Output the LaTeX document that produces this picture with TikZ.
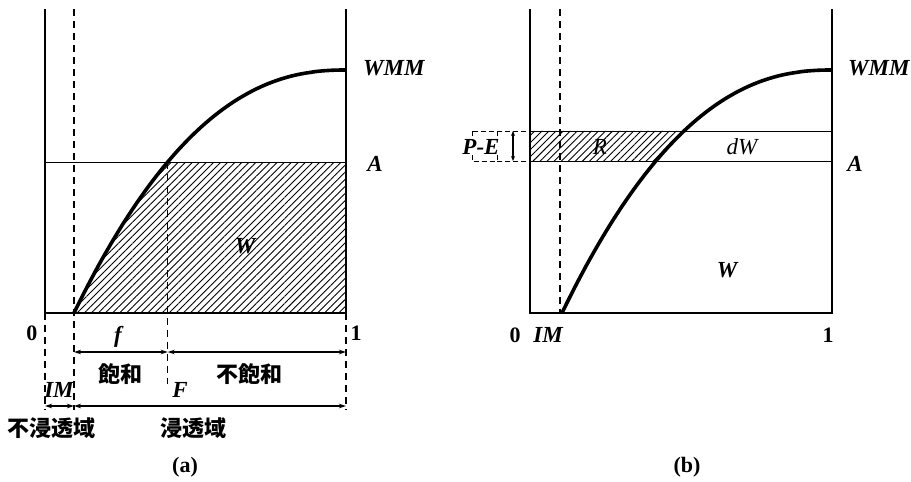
\documentclass[tikz,border=0pt]{standalone}
\usepackage{fontspec}
\setmainfont{Liberation Serif}
\newfontfamily\cjk{Noto Sans CJK JP}
\usetikzlibrary{arrows.meta,patterns.meta}
\begin{document}
\begin{tikzpicture}[x=1pt,y=-1pt,
  wall/.style={line width=2.8pt},
  thinl/.style={line width=1pt},
  dsh/.style={line width=1.2pt, dash pattern=on 7pt off 5pt},
  crv/.style={line width=3.6pt},
  hatch/.style={pattern={Lines[angle=45,distance=5pt,line width=0.9pt]}},
  lab/.style={font=\fontsize{23}{25}\selectfont\bfseries\itshape, inner sep=0pt},
  labm/.style={font=\fontsize{23}{25}\selectfont\itshape, inner sep=0pt},
  num/.style={font=\fontsize{22}{24}\selectfont\bfseries, inner sep=0pt},
  jp/.style={font=\fontsize{22}{24}\selectfont\cjk\bfseries, inner sep=0pt},
  dimarrow/.style={line width=1.1pt,{Stealth[length=7pt,width=4.5pt]}-{Stealth[length=7pt,width=4.5pt]}},
]
\useasboundingbox (0,0) rectangle (911,482);

% ---------------- panel (a) ----------------
\coordinate (aTL) at (45,9);
\coordinate (aBL) at (45,313);
\coordinate (aBR) at (346,313);
\coordinate (aTR) at (346,9);
\coordinate (aAL) at (45,162);
\coordinate (aAR) at (346,162);
\coordinate (aIMt) at (74,9);
\coordinate (aIMb) at (74,410);
\coordinate (aFa) at (167.7,162);
\coordinate (aFb) at (167.7,384);
\coordinate (aLb) at (45,410);
\coordinate (aRb) at (346,410);
\coordinate (af1) at (74,352);
\coordinate (af2) at (167.7,352);
\coordinate (af3) at (346,352);
\coordinate (aF1) at (45,406);
\coordinate (aF2) at (74,406);
\coordinate (aF3) at (346,406);

\fill[hatch] plot[domain=0:0.3444,samples=40] ({74+272*\x},{313-243*(1-(1-\x)^2.3)}) -- (aAR) -- (aBR) -- cycle;
\draw[thinl] (aAL) -- (aAR);
\draw[dsh] (aIMt) -- (aIMb);
\draw[dsh] (aFa) -- (aFb);
\draw[dsh] (aBL) -- (aLb);
\draw[dsh] (aBR) -- (aRb);
\draw[wall] (aTL) -- (aBL) -- (aBR) -- (aTR);
\draw[crv] plot[domain=0:1,samples=80] ({74+272*\x},{313-243*(1-max(1-\x,0)^2.3)});
\draw[dimarrow] (af1) -- (af2);
\draw[dimarrow] (af2) -- (af3);
\draw[dimarrow] (aF1) -- (aF2);
\draw[dimarrow] (aF2) -- (aF3);

\node[lab] (aW) at (245,246) {W};
\node[lab,anchor=west] (aWMM) at (363,68) {WMM};
\node[lab] (aA) at (375,164) {A};
\node[num] (a0) at (32,333) {0};
\node[num] (a1) at (356,333) {1};
\node[lab] (af) at (118,337) {f};
\node[jp] (asat) at (120,374) {飽和};
\node[jp] (aunsat) at (249,374) {不飽和};
\node[lab] (aIM) at (59,390) {IM};
\node[lab] (aF) at (180,390) {F};
\node[jp] (aimp) at (52,428) {不浸透域};
\node[jp] (aper) at (193,428) {浸透域};
\node[num] (acap) at (185,467) {(a)};

% ---------------- panel (b) ----------------
\coordinate (bTL) at (530,9);
\coordinate (bBL) at (530,313);
\coordinate (bBR) at (832,313);
\coordinate (bTR) at (832,9);
\coordinate (bUL) at (530,131);
\coordinate (bUR) at (832,131);
\coordinate (bAL) at (530,161);
\coordinate (bAR) at (832,161);
\coordinate (bIMt) at (560,9);
\coordinate (bIMb) at (560,313);
\coordinate (bdU) at (497,131);
\coordinate (bdA) at (497,161);
\coordinate (barU) at (513,131);
\coordinate (barA) at (513,161);

\fill[hatch] (bAL) -- plot[domain=0.3475:0.452,samples=20] ({562+270*\x},{313-243*(1-(1-\x)^2.3)}) -- (bUL) -- cycle;
\draw[thinl] (bUL) -- (bUR);
\draw[thinl] (bAL) -- (bAR);
\draw[dsh] (bIMt) -- (bIMb);
\draw[wall] (bTL) -- (bBL) -- (bBR) -- (bTR);
\draw[crv] plot[domain=0:1,samples=80] ({562+270*\x},{313-243*(1-max(1-\x,0)^2.3)});

\draw[line width=1pt, dash pattern=on 5pt off 3pt] (472,131) rectangle (bdA);
\draw[line width=1pt, dash pattern=on 5pt off 3pt] (bdU) -- (bUL);
\draw[line width=1pt, dash pattern=on 5pt off 3pt] (bdA) -- (bAL);
\draw[line width=1.1pt,{Stealth[length=5pt,width=4pt]}-{Stealth[length=5pt,width=4pt]}] (barU) -- (barA);

\node[lab,fill=white,inner sep=0.5pt] (bPE) at (481,147) {P-E};
\node[labm] (bR) at (600,147) {R};
\node[labm] (bdW) at (742,147) {dW};
\node[lab] (bW) at (727,270) {W};
\node[lab,anchor=west] (bWMM) at (848,68) {WMM};
\node[lab] (bA) at (855,164) {A};
\node[num] (b0) at (515,335) {0};
\node[lab] (bIM) at (548,335) {IM};
\node[num] (b1) at (828,335) {1};
\node[num] (bcap) at (687,467) {(b)};
\end{tikzpicture}
\end{document}
